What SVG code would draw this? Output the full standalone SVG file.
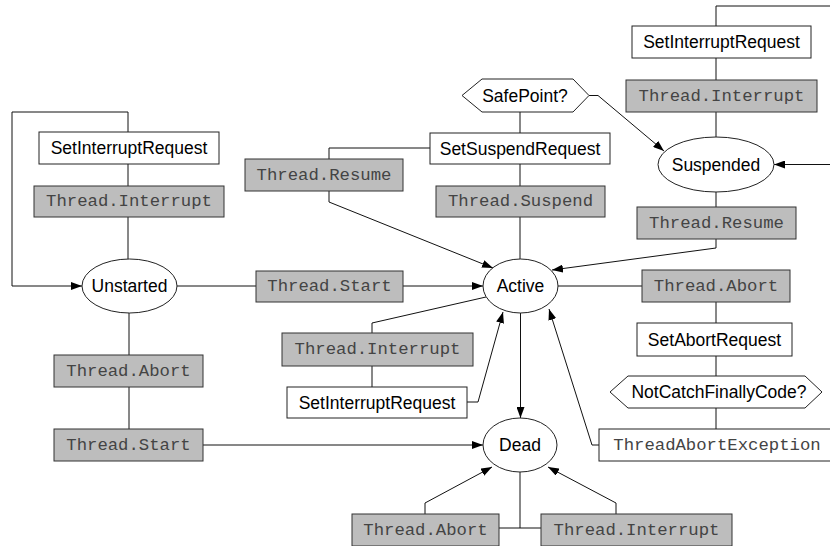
<svg xmlns="http://www.w3.org/2000/svg" width="830" height="546" viewBox="0 0 830 546">
<style>
.bg{fill:#ffffff}
.w{fill:#ffffff;stroke:#222;stroke-width:1}
.g{fill:#bdbdbd;stroke:#333;stroke-width:1}
.s{font-family:"Liberation Sans",Arial,sans-serif;font-size:17.5px;fill:#000;text-anchor:middle;dominant-baseline:central}
.m{font-family:"Liberation Mono","Courier New",monospace;font-size:17.3px;fill:#444;text-anchor:middle;dominant-baseline:central}
.c{fill:none;stroke:#111;stroke-width:1}
</style>
<defs>
<marker id="ah" markerUnits="userSpaceOnUse" markerWidth="11" markerHeight="8" refX="11" refY="4" orient="auto">
<path d="M0,0 L11,4 L0,8 z" fill="#000"/>
</marker>
</defs>
<rect class="bg" x="0" y="0" width="830" height="546"/>
<g id="connectors">
<path class="c" d="M128,132 V112 H12 V286 H82" marker-end="url(#ah)"/>
<path class="c" d="M128,164 V186"/>
<path class="c" d="M128,217 V259"/>
<path class="c" d="M177,286 H256"/>
<path class="c" d="M403,286 H483" marker-end="url(#ah)"/>
<path class="c" d="M129,313 V355"/>
<path class="c" d="M129,387 V429"/>
<path class="c" d="M203,445 H483" marker-end="url(#ah)"/>
<path class="c" d="M520,112 V133"/>
<path class="c" d="M520,164 V186"/>
<path class="c" d="M520,217 V259"/>
<path class="c" d="M430,148 H329 V159"/>
<path class="c" d="M329,191 V202 L493,268" marker-end="url(#ah)"/>
<path class="c" d="M589,95.5 H598 L664,151" marker-end="url(#ah)"/>
<path class="c" d="M830,6 H716 V26"/>
<path class="c" d="M716,58 V80"/>
<path class="c" d="M716,112 V137"/>
<path class="c" d="M830,164.5 H774" marker-end="url(#ah)"/>
<path class="c" d="M716,192 V207"/>
<path class="c" d="M716,239 V248 L552,270" marker-end="url(#ah)"/>
<path class="c" d="M558,286 H642"/>
<path class="c" d="M716,302 V323"/>
<path class="c" d="M716,356 V376"/>
<path class="c" d="M716,408 V429"/>
<path class="c" d="M599,445 H592 L549,309" marker-end="url(#ah)"/>
<path class="c" d="M486,297 L372,323 V333"/>
<path class="c" d="M372,366 V387"/>
<path class="c" d="M467,402 H478 L503,312" marker-end="url(#ah)"/>
<path class="c" d="M520.5,313 V418" marker-end="url(#ah)"/>
<path class="c" d="M520,472 V528 M499,528 H541"/>
<path class="c" d="M425,514 V503 L492,467" marker-end="url(#ah)"/>
<path class="c" d="M616,514 V503 L548,467" marker-end="url(#ah)"/>
</g>
<g id="n-setint-left"><rect class="w" x="39" y="132" width="180" height="32"/><text class="s" x="129" y="148">SetInterruptRequest</text></g>
<g id="n-interrupt-left"><rect class="g" x="34" y="186" width="190" height="31"/><text class="m" x="129" y="201.5">Thread.Interrupt</text></g>
<g id="n-unstarted"><ellipse class="w" cx="129.5" cy="286" rx="47.5" ry="27"/><text class="s" x="129.5" y="286">Unstarted</text></g>
<g id="n-start-top"><rect class="g" x="256" y="271" width="147" height="31"/><text class="m" x="329.5" y="286.5">Thread.Start</text></g>
<g id="n-abort-left"><rect class="g" x="54" y="355" width="149" height="32"/><text class="m" x="128.5" y="371">Thread.Abort</text></g>
<g id="n-start-bottom"><rect class="g" x="54" y="429" width="149" height="32"/><text class="m" x="128.5" y="445">Thread.Start</text></g>
<g id="n-safepoint"><polygon class="w" points="462,95.5 482,79 573,79 589,95.5 573,112 482,112"/><text class="s" x="525" y="95.5">SafePoint?</text></g>
<g id="n-setsuspend"><rect class="w" x="430" y="133" width="180" height="31"/><text class="s" x="520" y="148.5">SetSuspendRequest</text></g>
<g id="n-resume-left"><rect class="g" x="245" y="159" width="158" height="32"/><text class="m" x="324" y="175">Thread.Resume</text></g>
<g id="n-suspend"><rect class="g" x="436" y="186" width="169" height="31"/><text class="m" x="520.5" y="201.5">Thread.Suspend</text></g>
<g id="n-active"><ellipse class="w" cx="520.5" cy="286" rx="37.5" ry="27"/><text class="s" x="520.5" y="286">Active</text></g>
<g id="n-setint-right"><rect class="w" x="632" y="26" width="179" height="32"/><text class="s" x="721.5" y="42">SetInterruptRequest</text></g>
<g id="n-interrupt-right"><rect class="g" x="626" y="80" width="191" height="32"/><text class="m" x="721.5" y="96">Thread.Interrupt</text></g>
<g id="n-suspended"><ellipse class="w" cx="716" cy="164.5" rx="58" ry="27.5"/><text class="s" x="716" y="164.5">Suspended</text></g>
<g id="n-resume-right"><rect class="g" x="637" y="207" width="159" height="32"/><text class="m" x="716.5" y="223">Thread.Resume</text></g>
<g id="n-abort-right"><rect class="g" x="642" y="270" width="148" height="32"/><text class="m" x="716" y="286">Thread.Abort</text></g>
<g id="n-setabort"><rect class="w" x="637" y="323" width="155" height="33"/><text class="s" x="714.5" y="339.5">SetAbortRequest</text></g>
<g id="n-notcatch"><polygon class="w" points="610,392 628,376 805,376 822,392 805,408 628,408"/><text class="s" x="719" y="392">NotCatchFinallyCode?</text></g>
<g id="n-tae"><rect class="w" x="599" y="429" width="236" height="32"/><text class="m" x="717" y="445">ThreadAbortException</text></g>
<g id="n-interrupt-mid"><rect class="g" x="282" y="333" width="191" height="33"/><text class="m" x="377.5" y="349.5">Thread.Interrupt</text></g>
<g id="n-setint-mid"><rect class="w" x="287" y="387" width="180" height="31"/><text class="s" x="377" y="402.5">SetInterruptRequest</text></g>
<g id="n-dead"><ellipse class="w" cx="520" cy="445" rx="37" ry="27"/><text class="s" x="520" y="445">Dead</text></g>
<g id="n-abort-bottom"><rect class="g" x="352" y="514" width="147" height="32"/><text class="m" x="425.5" y="530">Thread.Abort</text></g>
<g id="n-interrupt-bottom"><rect class="g" x="541" y="514" width="191" height="32"/><text class="m" x="636.5" y="530">Thread.Interrupt</text></g>
</svg>
